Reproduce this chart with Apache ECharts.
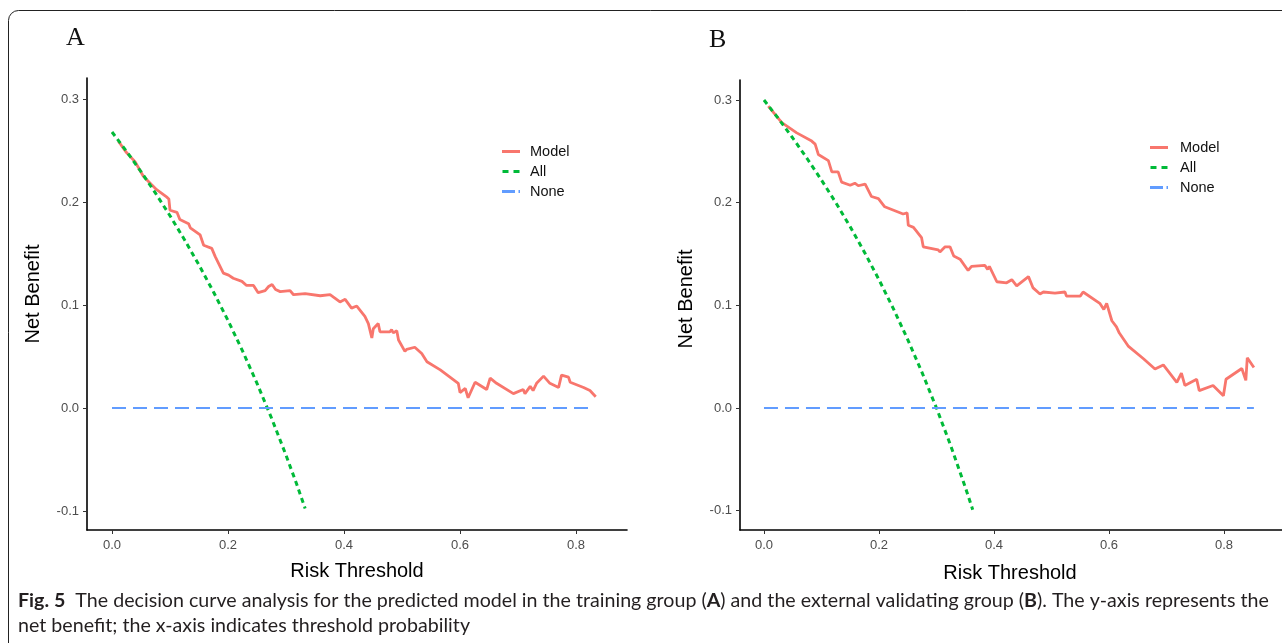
<!DOCTYPE html>
<html>
<head>
<meta charset="utf-8">
<script src="https://cdn.jsdelivr.net/npm/echarts@6/dist/echarts.min.js"></script>
<style>
html,body{margin:0;padding:0;background:#fff;}
#chart{width:1282px;height:643px;}
</style>
</head>
<body>
<div id="chart"></div>
<script>
// ---------- data ----------
var xTicks = [0, 0.2, 0.4, 0.6, 0.8];
var yTicks = [-0.1, 0, 0.1, 0.2, 0.3];
var legendNames = ['Model', 'All', 'None'];

// Panel A (training group)
var modelA_x = [0.011,0.025,0.040,0.054,0.068,0.077,0.094,0.098,0.100,0.112,0.117,0.132,0.135,0.152,0.158,0.172,0.178,0.192,0.201,0.209,0.224,0.232,0.244,0.252,0.264,0.270,0.276,0.282,0.290,0.307,0.313,0.333,0.359,0.376,0.393,0.402,0.413,0.422,0.436,0.442,0.448,0.4505,0.459,0.462,0.479,0.482,0.485,0.491,0.494,0.505,0.508,0.522,0.534,0.543,0.566,0.597,0.600,0.609,0.614,0.626,0.646,0.652,0.663,0.692,0.709,0.712,0.721,0.726,0.732,0.744,0.755,0.770,0.775,0.787,0.790,0.813,0.824,0.834];
var modelA_y = [0.259,0.248,0.239,0.225,0.217,0.212,0.205,0.203,0.192,0.190,0.183,0.179,0.175,0.168,0.158,0.155,0.147,0.131,0.129,0.126,0.123,0.119,0.119,0.112,0.114,0.118,0.120,0.115,0.113,0.114,0.110,0.111,0.109,0.110,0.103,0.1055,0.097,0.099,0.089,0.082,0.068,0.077,0.082,0.074,0.074,0.076,0.073,0.075,0.066,0.055,0.057,0.059,0.053,0.045,0.037,0.024,0.015,0.019,0.010,0.025,0.018,0.029,0.024,0.014,0.018,0.014,0.021,0.017,0.024,0.031,0.024,0.020,0.032,0.030,0.025,0.020,0.017,0.011];
var allA_x = [0,0.025,0.05,0.075,0.1,0.125,0.15,0.175,0.2,0.225,0.25,0.275,0.3,0.318,0.333];
var allA_y = [0.268,0.2492,0.2295,0.2086,0.1867,0.1634,0.1388,0.1127,0.085,0.0555,0.024,-0.0097,-0.0457,-0.0733,-0.0975];
var noneA_x = [0, 0.83];
var noneA_y = [0, 0];

// Panel B (external validating group)
var modelB_x = [0.0075,0.031,0.057,0.083,0.086,0.089,0.0945,0.112,0.118,0.129,0.135,0.150,0.158,0.164,0.176,0.187,0.199,0.210,0.242,0.249,0.251,0.260,0.274,0.277,0.303,0.306,0.315,0.3235,0.330,0.341,0.355,0.361,0.384,0.389,0.392,0.405,0.422,0.431,0.4395,0.460,0.468,0.480,0.486,0.506,0.5235,0.526,0.550,0.555,0.584,0.591,0.596,0.605,0.613,0.618,0.634,0.660,0.680,0.6945,0.718,0.726,0.732,0.7525,0.757,0.781,0.799,0.8035,0.831,0.838,0.8405,0.852];
var modelB_y = [0.294,0.278,0.268,0.260,0.261,0.257,0.247,0.241,0.230,0.230,0.220,0.217,0.219,0.2165,0.218,0.206,0.204,0.196,0.189,0.190,0.178,0.176,0.166,0.157,0.154,0.152,0.157,0.157,0.148,0.145,0.134,0.138,0.139,0.135,0.138,0.123,0.122,0.125,0.119,0.128,0.117,0.111,0.113,0.112,0.113,0.109,0.109,0.113,0.102,0.096,0.102,0.085,0.079,0.073,0.060,0.048,0.038,0.042,0.025,0.034,0.022,0.028,0.017,0.022,0.012,0.028,0.0385,0.027,0.049,0.0395];
var allB_x = [0,0.025,0.05,0.075,0.1,0.125,0.15,0.175,0.2,0.225,0.25,0.275,0.3,0.325,0.35,0.363];
var allB_y = [0.3,0.282,0.263,0.243,0.222,0.200,0.1765,0.1515,0.125,0.0968,0.0667,0.0345,0.0,-0.037,-0.0769,-0.099];
var noneB_x = [0, 0.852];
var noneB_y = [0, 0];

var captionLine1 = ['Fig. 5', '  The decision curve analysis for the predicted model in the training group (', 'A', ') and the external validating group (', 'B', '). The y-axis represents the'];
var captionLine2 = 'net benefit; the x-axis indicates threshold probability';

// ---------- helpers ----------
function zip(xs, ys) { return xs.map(function (x, i) { return [x, ys[i]]; }); }

var C_MODEL = '#F8766D', C_ALL = '#00BA38', C_NONE = '#619CFF';
var tickFont = 'Liberation Sans, Arial, sans-serif';
var ICONS = {
  Model: 'path://M0,0H18V3H0Z',
  All: 'path://M0,0H6V3H0Z M11,0H17V3H11Z',
  None: 'path://M0,0H13V3H0Z M16.5,0H18V3H16.5Z'
};

function xAxisCfg(idx, min, max) {
  return {
    type: 'value', gridIndex: idx, min: min, max: max,
    axisLine: { show: true, onZero: false, lineStyle: { color: '#000', width: 1.6 } },
    axisTick: { show: true, length: 4, customValues: xTicks, lineStyle: { color: '#333', width: 1 } },
    axisLabel: { customValues: xTicks, color: '#4D4D4D', fontSize: 13, fontFamily: tickFont, margin: 9,
      formatter: function (v) { return v.toFixed(1); } },
    splitLine: { show: false }
  };
}
function yAxisCfg(idx, min, max) {
  return {
    type: 'value', gridIndex: idx, min: min, max: max,
    axisLine: { show: true, onZero: false, lineStyle: { color: '#000', width: 1.6 } },
    axisTick: { show: true, length: 4, customValues: yTicks, lineStyle: { color: '#333', width: 1 } },
    axisLabel: { customValues: yTicks, color: '#4D4D4D', fontSize: 13, fontFamily: tickFont, margin: 8,
      formatter: function (v) { return v.toFixed(1); } },
    splitLine: { show: false }
  };
}
function seriesSet(idx, m, a, n) {
  return [
    { name: 'Model', type: 'line', xAxisIndex: idx, yAxisIndex: idx, data: m, symbol: 'none',
      lineStyle: { color: C_MODEL, width: 2.8 }, itemStyle: { color: C_MODEL }, z: 2, animation: false },
    { name: 'All', type: 'line', xAxisIndex: idx, yAxisIndex: idx, data: a, symbol: 'none',
      lineStyle: { color: C_ALL, width: 3, type: [5, 4] }, itemStyle: { color: C_ALL }, z: 3, animation: false },
    { name: 'None', type: 'line', xAxisIndex: idx, yAxisIndex: idx, data: n, symbol: 'none',
      lineStyle: { color: C_NONE, width: 2, type: [14, 7] }, itemStyle: { color: C_NONE }, z: 4, animation: false }
  ];
}
function legendCfg(left, top, pad) {
  return {
    data: legendNames.map(function (n) { return { name: n, icon: ICONS[n] }; }),
    orient: 'vertical', left: left, top: top,
    itemWidth: 18, itemHeight: 3, itemGap: 5, selectedMode: false,
    textStyle: { fontSize: 14.5, color: '#111', fontFamily: tickFont, lineHeight: 14, padding: [0, 0, 0, pad] }
  };
}

// caption scale: fit line 1 into target width
var capFont = 'Lato, "Open Sans", sans-serif';
var capSize = 19;
var cv = document.createElement('canvas').getContext('2d');
cv.font = capSize + 'px ' + capFont;
var plainW = cv.measureText(captionLine1.join('')).width;
var capScale = 1250 / plainW;
var titleFont = '20px "Liberation Sans", Arial, sans-serif';

var chart = echarts.init(document.getElementById('chart'), null, { renderer: 'canvas' });
chart.setOption({
  animation: false,
  backgroundColor: '#fff',
  grid: [
    { left: 87, top: 78, width: 540, height: 452, containLabel: false },
    { left: 740, top: 80, width: 542, height: 450, containLabel: false }
  ],
  xAxis: [xAxisCfg(0, -0.0431, 0.8879), xAxisCfg(1, -0.0417, 0.9009)],
  yAxis: [yAxisCfg(0, -0.1184, 0.3204), yAxisCfg(1, -0.1188, 0.3195)],
  legend: [legendCfg(497, 139, 5), legendCfg(1145, 135, 7)],
  series: seriesSet(0, zip(modelA_x, modelA_y), zip(allA_x, allA_y), zip(noneA_x, noneA_y))
    .concat(seriesSet(1, zip(modelB_x, modelB_y), zip(allB_x, allB_y), zip(noneB_x, noneB_y))),
  graphic: [
    { type: 'rect', silent: true, z: 0,
      shape: { x: 8.5, y: 10.5, width: 1400, height: 700, r: 10 },
      style: { fill: 'none', stroke: '#222', lineWidth: 1 } },
    { type: 'text', left: 66, top: 25, style: { text: 'A', font: '26px "Liberation Serif", "DejaVu Serif", serif', fill: '#111' } },
    { type: 'text', left: 709, top: 27, style: { text: 'B', font: '26px "Liberation Serif", "DejaVu Serif", serif', fill: '#111' } },
    { type: 'text', x: 357, y: 571, style: { text: 'Risk Threshold', font: titleFont, fill: '#000', align: 'center', verticalAlign: 'middle' } },
    { type: 'text', x: 1010, y: 573, style: { text: 'Risk Threshold', font: titleFont, fill: '#000', align: 'center', verticalAlign: 'middle' } },
    { type: 'text', x: 33, y: 294, rotation: Math.PI / 2, style: { text: 'Net Benefit', font: titleFont, fill: '#000', align: 'center', verticalAlign: 'middle' } },
    { type: 'text', x: 686, y: 299, rotation: Math.PI / 2, style: { text: 'Net Benefit', font: titleFont, fill: '#000', align: 'center', verticalAlign: 'middle' } },
    { type: 'text', x: 18, y: 601, scaleX: capScale, originX: 0,
      style: {
        text: '{b|' + captionLine1[0] + '}' + captionLine1[1] + '{b|' + captionLine1[2] + '}' + captionLine1[3] + '{b|' + captionLine1[4] + '}' + captionLine1[5],
        font: capSize + 'px ' + capFont, fill: '#231F20', verticalAlign: 'middle',
        rich: { b: { fontWeight: 'bold', fontSize: capSize, fontFamily: capFont, fill: '#231F20' } }
      } },
    { type: 'text', x: 18, y: 626, scaleX: capScale, originX: 0,
      style: { text: captionLine2, font: capSize + 'px ' + capFont, fill: '#231F20', verticalAlign: 'middle' } }
  ]
});
</script>
</body>
</html>
